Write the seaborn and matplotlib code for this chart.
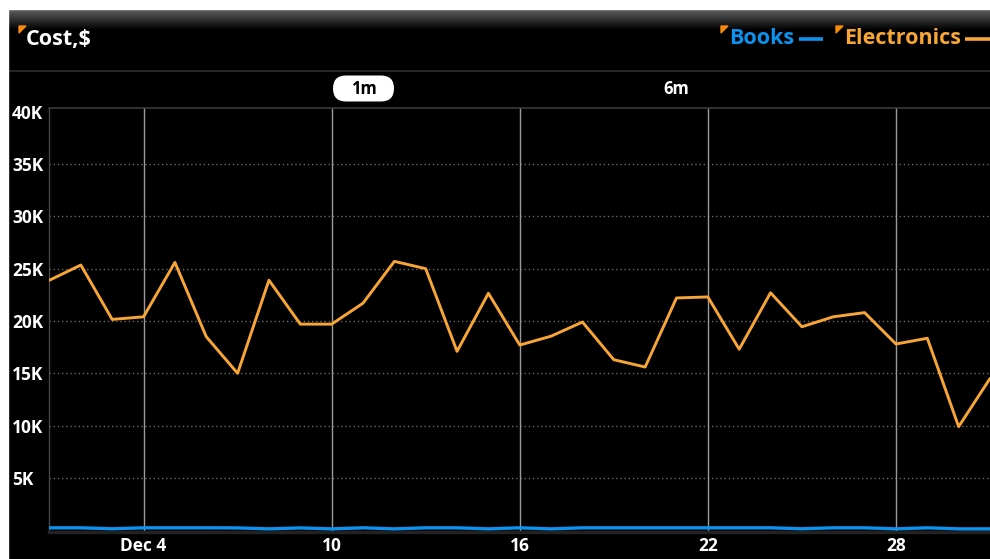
import numpy as np
import pandas as pd
import matplotlib
matplotlib.use("Agg")
import matplotlib.pyplot as plt
import matplotlib.dates as mdates
from matplotlib.patches import Rectangle, Polygon, FancyBboxPatch
import seaborn as sns

# ---- data -------------------------------------------------------------
dates = pd.date_range("2023-12-01", "2023-12-31", freq="D")
electronics = [23900, 25350, 20150, 20400, 25600, 18500, 15000, 23900, 19700, 19700,
               21700, 25700, 25000, 17100, 22650, 17700, 18550, 19900, 16300, 15600,
               22200, 22300, 17300, 22700, 19450, 20400, 20800, 17800, 18350, 9900,
               14500]
books = [230, 230, 140, 230, 230, 230, 220, 130, 220, 130,
         230, 130, 230, 230, 130, 230, 130, 230, 230, 230,
         230, 230, 230, 230, 140, 230, 230, 130, 230, 130,
         130]
y_ticks = [5000, 10000, 15000, 20000, 25000, 30000, 35000, 40000]
y_labels = ["5K", "10K", "15K", "20K", "25K", "30K", "35K", "40K"]
x_tick_dates = ["2023-12-04", "2023-12-10", "2023-12-16", "2023-12-22", "2023-12-28"]
x_labels = ["Dec 4", "10", "16", "22", "28"]
series_names = ["Books", "Electronics"]
ranges = ["1m", "6m"]
title = "Cost,$"

ORANGE = "#f7a536"
BLUE = "#0b93ef"
MARK = "#f58a0b"
FONT = "Open Sans"

df = pd.DataFrame({
    "date": list(dates) * 2,
    "cost": books + electronics,
    "category": ["Books"] * len(books) + ["Electronics"] * len(electronics),
})

sns.set_theme(style="dark")
plt.rcParams["font.family"] = [FONT, "DejaVu Sans"]
plt.rcParams["font.weight"] = "bold"

W, H = 990, 559
fig = plt.figure(figsize=(W / 100, H / 100), dpi=100, facecolor="black")

# ---- frame, header and controls (pixel coordinates) ------------------
deco = fig.add_axes([0, 0, 1, 1])
deco.set_xlim(0, W)
deco.set_ylim(H, 0)
deco.axis("off")
deco.set_facecolor("none")
deco.add_patch(Rectangle((0, 0), W, 9, color="white", zorder=5))
deco.add_patch(Rectangle((0, 0), 8, H, color="white", zorder=5))
grad = np.linspace(0.38, 0.0, 64).reshape(-1, 1)
deco.imshow(np.dstack([grad, grad, grad]), extent=(8, W, 30, 9), aspect="auto", zorder=1)
deco.plot([8, W], [70.5, 70.5], color="#2e2e2e", lw=1.2, zorder=2)

deco.add_patch(Polygon([[19, 26], [26, 26], [19, 33]], closed=True, color=MARK, zorder=3))
deco.text(26, 39, title, color="white", fontsize=15.5, fontweight="bold",
          va="center", ha="left", zorder=3)

deco.add_patch(Polygon([[721, 26], [728, 26], [721, 33]], closed=True, color=MARK, zorder=3))
deco.text(729, 39, series_names[0], color=BLUE, fontsize=15.5, fontweight="bold",
          va="center", ha="left", zorder=3)
deco.plot([799, 823], [39, 39], color=BLUE, lw=2.6, solid_capstyle="butt", zorder=3)
deco.add_patch(Polygon([[836, 26], [843, 26], [836, 33]], closed=True, color=MARK, zorder=3))
deco.text(844, 39, series_names[1], color=ORANGE, fontsize=15.5, fontweight="bold",
          va="center", ha="left", zorder=3)
deco.plot([965, 990], [39, 39], color=ORANGE, lw=2.6, solid_capstyle="butt", zorder=3)

deco.add_patch(FancyBboxPatch((333, 75.5), 61, 26, boxstyle="round,pad=0,rounding_size=13",
                              fc="white", ec="none", zorder=3))
deco.text(363.5, 89, ranges[0], color="black", fontsize=12, fontweight="bold",
          va="center", ha="center", zorder=4)
deco.text(676, 89, ranges[1], color="white", fontsize=12, fontweight="bold",
          va="center", ha="center", zorder=4)

# ---- chart -----------------------------------------------------------
ax = fig.add_axes([49 / W, 1 - 532 / H, 941 / W, 424 / H])
ax.set_facecolor("black")

sns.lineplot(data=df[df.category == "Electronics"], x="date", y="cost",
             color=ORANGE, linewidth=2.1, ax=ax, legend=False, zorder=4)
sns.lineplot(data=df[df.category == "Books"], x="date", y="cost",
             color=BLUE, linewidth=2.4, ax=ax, legend=False, zorder=5)

x0 = mdates.date2num(pd.Timestamp("2023-12-01")) - 0.016
x1 = mdates.date2num(pd.Timestamp("2023-12-31"))
ax.set_xlim(x0, x1)
ax.set_ylim(-170, 40360)

for yv in y_ticks[:-1]:
    ax.axhline(yv, color="#6a6a6a", lw=1, ls=(0, (1, 2)), zorder=1)
xt = [mdates.date2num(pd.Timestamp(d)) for d in x_tick_dates]
for xv in xt:
    ax.axvline(xv, color="#9a9a9a", lw=1, zorder=1)

ax.set_yticks(y_ticks)
ax.set_yticklabels(y_labels)
ax.set_xticks(xt)
ax.set_xticklabels(x_labels)
ax.tick_params(axis="y", length=0, pad=26.6, labelsize=12.5, labelcolor="white")
ax.tick_params(axis="x", length=0, pad=3.5, labelsize=12.5, labelcolor="white")
for lab in ax.get_yticklabels():
    lab.set_horizontalalignment("left")
    lab.set_fontweight("bold")
for lab in ax.get_xticklabels():
    lab.set_fontweight("bold")
ax.grid(False)
ax.set_xlabel("")
ax.set_ylabel("")

ax.spines["right"].set_visible(False)
ax.spines["left"].set_color("#474747")
ax.spines["left"].set_linewidth(1)
ax.spines["top"].set_color("#3a3a3a")
ax.spines["top"].set_linewidth(1.2)
ax.spines["bottom"].set_color("#222222")
ax.spines["bottom"].set_linewidth(2.5)

fig.savefig("out.png", dpi=100, facecolor="black")
